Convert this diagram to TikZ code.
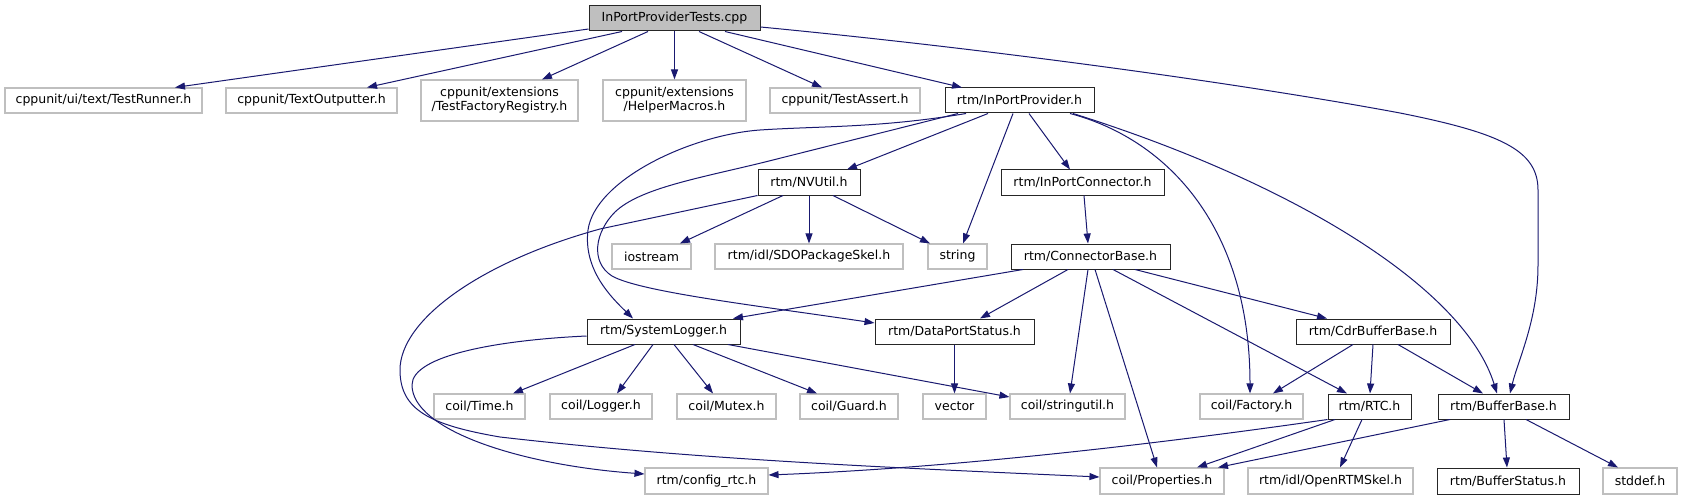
\documentclass[tikz,border=0pt]{standalone}
\usepackage{fontspec}
\setmainfont{DejaVu Sans}
\usetikzlibrary{arrows.meta}
\definecolor{edgeblue}{HTML}{191970}
\definecolor{boxgray}{HTML}{BFBFBF}
\definecolor{rootfill}{HTML}{BFBFBF}
\newcommand{\fsz}{\fontsize{12.5pt}{14pt}\selectfont}
\begin{document}
\begin{tikzpicture}[x=1pt,y=-1pt,
  base/.style={rectangle, inner sep=0pt, minimum height=25pt, font=\fsz, align=center, text=black},
  gbox/.style={base, draw=boxgray, fill=white, line width=1.1pt},
  bbox/.style={base, draw=black!85, fill=white, line width=1pt},
  rootbox/.style={base, draw=black!85, fill=rootfill, line width=1pt},
  edge/.style={draw=edgeblue, line width=1pt, -{Triangle[length=10pt,width=7pt]}}]
\fill[white] (0,0) rectangle (1682,500);
\useasboundingbox (0,0) rectangle (1682,500);
% nodes
\node[rootbox, minimum width=171pt] (root) at (674.5,18.5) {InPortProviderTests.cpp};
\node[gbox, minimum width=197pt] (TR) at (103.5,100.5) {cppunit/ui/text/TestRunner.h};
\node[gbox, minimum width=171pt] (TO) at (311.5,100.5) {cppunit/TextOutputter.h};
\node[gbox, minimum width=157pt, minimum height=41pt] (TFR) at (499.5,100.5) {cppunit/extensions\\/TestFactoryRegistry.h};
\node[gbox, minimum width=143pt, minimum height=41pt] (HM) at (674.5,100.5) {cppunit/extensions\\/HelperMacros.h};
\node[gbox, minimum width=150pt] (TA) at (845,100.5) {cppunit/TestAssert.h};
\node[bbox, minimum width=149pt] (IPP) at (1019.5,100.5) {rtm/InPortProvider.h};
\node[bbox, minimum width=102pt] (NV) at (809,182.5) {rtm/NVUtil.h};
\node[bbox, minimum width=163pt] (IPC) at (1082.5,182.5) {rtm/InPortConnector.h};
\node[gbox, minimum width=79pt] (IOS) at (651.5,256.5) {iostream};
\node[gbox, minimum width=188pt] (SDO) at (809,256.5) {rtm/idl/SDOPackageSkel.h};
\node[gbox, minimum width=59pt] (STR) at (957.5,256.5) {string};
\node[bbox, minimum width=159pt] (CB) at (1090.5,256.5) {rtm/ConnectorBase.h};
\node[bbox, minimum width=153pt] (SL) at (663.5,331.5) {rtm/SystemLogger.h};
\node[bbox, minimum width=159pt] (DPS) at (954.5,331.5) {rtm/DataPortStatus.h};
\node[bbox, minimum width=154pt] (CDR) at (1373,331.5) {rtm/CdrBufferBase.h};
\node[gbox, minimum width=91pt] (TIME) at (479.5,406.5) {coil/Time.h};
\node[gbox, minimum width=102pt] (LOG) at (601,406.5) {coil/Logger.h};
\node[gbox, minimum width=99pt] (MTX) at (726.5,406.5) {coil/Mutex.h};
\node[gbox, minimum width=98pt] (GRD) at (849,406.5) {coil/Guard.h};
\node[gbox, minimum width=63pt] (VEC) at (954.5,406.5) {vector};
\node[gbox, minimum width=115pt] (SU) at (1067.5,406.5) {coil/stringutil.h};
\node[gbox, minimum width=103pt] (FAC) at (1251.5,406.5) {coil/Factory.h};
\node[bbox, minimum width=83pt] (RTC) at (1369.5,406.5) {rtm/RTC.h};
\node[bbox, minimum width=131pt] (BB) at (1503.5,406.5) {rtm/BufferBase.h};
\node[gbox, minimum width=123pt, minimum height=26pt] (CFG) at (706.5,481) {rtm/config\_rtc.h};
\node[gbox, minimum width=124pt, minimum height=26pt] (PROP) at (1162,481) {coil/Properties.h};
\node[gbox, minimum width=165pt, minimum height=26pt] (ORS) at (1330.5,481) {rtm/idl/OpenRTMSkel.h};
\node[bbox, minimum width=142pt, minimum height=26pt] (BS) at (1508,481) {rtm/BufferStatus.h};
\node[gbox, minimum width=74pt, minimum height=26pt] (SDF) at (1640,481) {stddef.h};
% edges from root
\draw[edge] ([yshift=-10.5pt]root.west) -- ([xshift=71.5pt]TR.north);
\draw[edge] ([xshift=-52.5pt]root.south) -- ([xshift=55.5pt]TO.north);
\draw[edge] ([xshift=-26.5pt]root.south) -- ([xshift=42.5pt]TFR.north);
\draw[edge] (root.south) -- (HM.north);
\draw[edge] ([xshift=24.5pt]root.south) -- ([xshift=-23pt]TA.north);
\draw[edge] ([xshift=50.5pt]root.south) -- ([xshift=-57.5pt]IPP.north);
\draw[edge] ([yshift=-8.5pt]root.east) .. controls (1000,50) and (1250,85) .. (1400,113)
  .. controls (1500,133) and (1538,150) .. (1538,190) -- (1538,265)
  .. controls (1538,320) and (1518,360) .. ([xshift=6.5pt]BB.north);
% edges from InPortProvider
\draw[edge] ([xshift=-31.5pt]IPP.south) -- ([xshift=38pt]NV.north);
\draw[edge] ([xshift=-6.5pt]IPP.south) -- ([xshift=5.5pt]STR.north);
\draw[edge] ([xshift=9.5pt]IPP.south) -- ([xshift=-12.5pt]IPC.north);
\draw[edge] ([xshift=50.5pt]IPP.south) .. controls (1170,140) and (1250,230) .. ([xshift=-1.5pt]FAC.north);
\draw[edge] ([xshift=53.5pt]IPP.south) .. controls (1300,185) and (1465,290) .. ([xshift=-6.5pt]BB.north);
\draw[edge] ([xshift=-53.5pt]IPP.south) .. controls (880,128) and (820,126) .. (760,130)
  .. controls (690,135) and (595,180) .. (588,230)
  .. controls (583,270) and (612,298) .. ([xshift=-30.5pt]SL.north);
\draw[edge] ([xshift=-61.5pt]IPP.south) -- (765,162) .. controls (700,178) and (640,188) .. (615,212)
  .. controls (595,232) and (590,262) .. (612,276)
  .. controls (640,292) and (760,306) .. ([yshift=8.5pt]DPS.west);
% edges from NVUtil
\draw[edge] ([xshift=-26pt]NV.south) -- ([xshift=28.5pt]IOS.north);
\draw[edge] (NV.south) -- (SDO.north);
\draw[edge] ([xshift=24pt]NV.south) -- ([xshift=-27.5pt]STR.north);
\draw[edge] (NV.south west) -- (600,229) .. controls (480,262) and (400,320) .. (400,370)
  .. controls (400,410) and (430,425) .. (500,437)
  .. controls (700,460) and (900,468) .. ([yshift=4pt]PROP.west);
% InPortConnector
\draw[edge] ([xshift=1.5pt]IPC.south) -- ([xshift=-2.5pt]CB.north);
% ConnectorBase
\draw[edge] ([xshift=-67.5pt]CB.south) -- ([xshift=69.5pt]SL.north);
\draw[edge] ([xshift=-22.5pt]CB.south) -- ([xshift=25.5pt]DPS.north);
\draw[edge] ([xshift=-2.5pt]CB.south) -- ([xshift=2.5pt]SU.north);
\draw[edge] ([xshift=4.5pt]CB.south) -- ([xshift=-5pt]PROP.north);
\draw[edge] ([xshift=22.5pt]CB.south) -- ([xshift=-22.5pt]RTC.north);
\draw[edge] ([xshift=44.5pt]CB.south) -- ([xshift=-46pt]CDR.north);
% SystemLogger
\draw[edge] ([xshift=-28.5pt]SL.south) -- ([xshift=33.5pt]TIME.north);
\draw[edge] ([xshift=-10.5pt]SL.south) -- ([xshift=16pt]LOG.north);
\draw[edge] ([xshift=10.5pt]SL.south) -- ([xshift=-13.5pt]MTX.north);
\draw[edge] ([xshift=29.5pt]SL.south) -- ([xshift=-32pt]GRD.north);
\draw[edge] ([xshift=64.5pt]SL.south) -- ([yshift=9.5pt]SU.west);
\draw[edge] ([yshift=-4.5pt]SL.west) .. controls (500,340) and (412,355) .. (412,385)
  .. controls (412,430) and (520,465) .. ([yshift=7pt]CFG.west);
% DataPortStatus
\draw[edge] (DPS.south) -- (VEC.north);
% CdrBufferBase
\draw[edge] ([xshift=-20pt]CDR.south) -- ([xshift=21.5pt]FAC.north);
\draw[edge] (CDR.south) -- ([xshift=0.5pt]RTC.north);
\draw[edge] ([xshift=25pt]CDR.south) -- ([xshift=-20.5pt]BB.north);
% RTC
\draw[edge] (RTC.south west) .. controls (1150,445) and (950,468) .. ([yshift=6pt]CFG.east);
\draw[edge] ([xshift=-34.5pt]RTC.south) -- ([xshift=35pt]PROP.north);
\draw[edge] ([xshift=-7.5pt]RTC.south) -- ([xshift=9.5pt]ORS.north);
% BufferBase
\draw[edge] ([xshift=-53.5pt]BB.south) -- ([xshift=56pt]PROP.north);
\draw[edge] ([xshift=0.5pt]BB.south) -- ([xshift=-1pt]BS.north);
\draw[edge] ([xshift=22.5pt]BB.south) -- ([xshift=-22pt]SDF.north);
\end{tikzpicture}
\end{document}
